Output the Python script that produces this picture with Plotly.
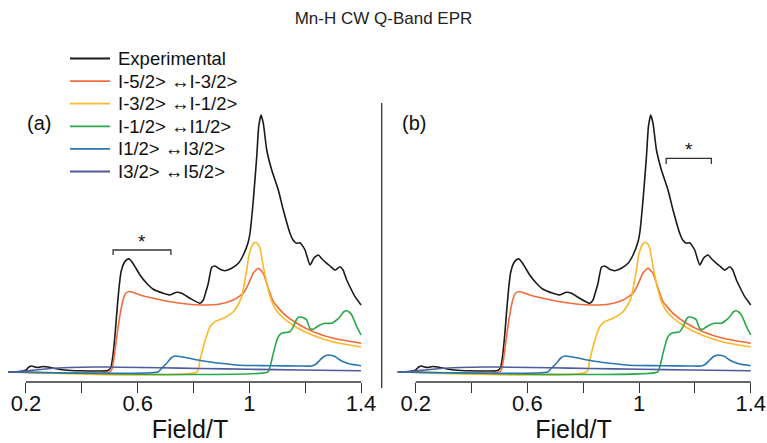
import plotly.graph_objects as go

# ---------------- data ----------------
exp_field = [0.1355, 0.1785, 0.2, 0.2107, 0.2215, 0.2322, 0.2430, 0.2609, 0.2788, 0.3039, 0.3397,
             0.3934, 0.4651, 0.4937, 0.5045, 0.5116, 0.5188, 0.5260, 0.5331, 0.5403, 0.5510, 0.5618,
             0.5700, 0.5797, 0.5904, 0.6083, 0.6323, 0.6560, 0.6918, 0.7158, 0.7398, 0.7577, 0.7874,
             0.8233, 0.8351, 0.8430, 0.8530, 0.8652, 0.8770, 0.8949, 0.9128, 0.9368, 0.9605, 0.9784,
             0.9963, 1.0024, 1.0142, 1.0264, 1.0335, 1.0418, 1.0500, 1.0622, 1.0801, 1.1037, 1.1216,
             1.1456, 1.1564, 1.1696, 1.1814, 1.1993, 1.2172, 1.2315, 1.2470, 1.2602, 1.2771, 1.2889,
             1.3068, 1.3247, 1.3355, 1.3487, 1.3641, 1.3784, 1.4]
exp_int = [0, 0.5, 2, 5, 6, 5, 4.5, 5.5, 5, 3.5, 2,
           1.2, 1, 1.5, 5, 17, 37, 62, 84, 100, 109, 112.5,
           113, 110, 105.3, 97, 88.7, 82.7, 78.7, 77, 79.7, 78.7, 73.7,
           68.7, 72, 79, 88.7, 104.7, 106, 102.7, 101.3, 103.7, 108.7, 117,
           130.3, 139, 172, 215.3, 245.3, 257, 248.7, 222, 202, 182, 162,
           138.7, 132, 128.7, 129.3, 122, 107, 114, 117, 113, 108.7, 106,
           102, 105.3, 102, 92, 83, 75.3, 67]

m52_field = [0.1355, 0.5009, 0.5080, 0.5152, 0.5260, 0.5367, 0.5474, 0.5582, 0.5725, 0.6083, 0.6560,
             0.7158, 0.7756, 0.8351, 0.8949, 0.9425, 0.9784, 0.9951, 1.0142, 1.0320, 1.0500, 1.0679,
             1.0858, 1.1216, 1.1696, 1.2290, 1.3006, 1.4]
m52_int = [0, 0, 3, 14, 37, 57, 72, 79, 80.5, 77, 73.7,
           70.3, 68, 67, 68, 72, 78.7, 87, 99, 103.7, 98.7, 83.7,
           70.3, 58.7, 48.7, 40.3, 33.7, 28.7]

m32_field = [0.1355, 0.8125, 0.8233, 0.8351, 0.8465, 0.8590, 0.8770, 0.9067, 0.9425, 0.9593, 0.9726,
             0.9808, 0.9905, 0.9987, 1.0084, 1.0166, 1.0238, 1.0310, 1.0381, 1.0500, 1.0597, 1.0679,
             1.0811, 1.0954, 1.1216, 1.1696, 1.2290, 1.3006, 1.4]
m32_int = [0, 0, 12, 25.3, 36, 45.3, 50.3, 53.7, 60.3, 67, 75.3,
           87, 102, 117, 125.3, 129, 129.5, 128, 123.7, 105.3, 92, 82,
           70, 62, 54, 44.5, 36.5, 30, 25]

m12_field = [0.1355, 1.0668, 1.0739, 1.0858, 1.0954, 1.1037, 1.1158, 1.1312, 1.1456, 1.1574, 1.1696,
             1.1778, 1.1875, 1.1957, 1.2054, 1.2118, 1.2172, 1.2290, 1.2405, 1.2530, 1.2710, 1.2950,
             1.3104, 1.3247, 1.3373, 1.3487, 1.3570, 1.3667, 1.3749, 1.3846, 1.4]
m12_int = [0, 0, 5, 18.7, 29, 35.3, 38.7, 39.5, 40.3, 45.3, 52.7,
           55, 54.7, 54, 52, 47, 43.7, 42.7, 45, 47, 48.7, 48.7,
           51.5, 55.3, 60, 61.3, 60, 57, 52, 45.3, 37]

p12_field = [0.1355, 0.6728, 0.6835, 0.7040, 0.7194, 0.7337, 0.7516, 0.7756, 0.8351, 0.8949, 0.9547,
             1.0024, 1.0858, 1.1814, 1.2233, 1.2387, 1.2530, 1.2674, 1.2828, 1.2960, 1.3068, 1.3247,
             1.3365, 1.3605, 1.4]
p12_int = [0, 0, 3, 8.7, 14, 16, 15.5, 14.3, 11, 8.7, 7,
           6.5, 6.3, 6, 6, 8, 12, 15.5, 17, 16.5, 15.5, 12,
           10.3, 8, 6.3]

p32_field = [0.1355, 0.1785, 0.2322, 0.2860, 0.3576, 0.4471, 0.5367, 0.6800, 0.8233, 1.0024, 1.1814, 1.4]
p32_int = [0, 0.5, 2, 3.5, 4.5, 5, 4.8, 4.2, 3.5, 2.7, 2, 1.2]

series_names = ["Experimental", "I-5/2> \u2194I-3/2>", "I-3/2> \u2194I-1/2>",
                "I-1/2> \u2194I1/2>", "I1/2> \u2194I3/2>", "I3/2> \u2194I5/2>"]
series_colors = ["#1a1a1a", "#f26b3a", "#fbb829", "#2ba84a", "#2876b2", "#4f5b9c"]
series_x = [exp_field, m52_field, m32_field, m12_field, p12_field, p32_field]
series_y = [exp_int, m52_int, m32_int, m12_int, p12_int, p32_int]

tick_vals = [0.2, 0.4, 0.6, 0.8, 1.0, 1.2, 1.4]
tick_text = ["0.2", "", "0.6", "", "1", "", "1.4"]

panel_labels = ["(a)", "(b)"]
# bracket (marked region, "*") per panel: field start, field end, height
bracket_x0 = [0.512, 1.097]
bracket_x1 = [0.719, 1.259]
bracket_top = [122, 213.7]
bracket_leg = [5, 5.7]

# ---------------- layout geometry ----------------
W, H = 767, 443
T_MARGIN, B_MARGIN = 60, 61
PLOT_H = H - T_MARGIN - B_MARGIN
BOTTOM_PX = H - B_MARGIN
FONT = "Liberation Sans, Arial, Helvetica, sans-serif"
split = 380 / W
xr_a = [0.1069, 1.4679]
xr_b = [0.0721, 1.4582]
doms = [[0, split], [split, 1]]
ranges = [xr_a, xr_b]
yr = [-10, 312]


def px_x(p):
    return p / W


def px_y(p):
    return (BOTTOM_PX - p) / PLOT_H


fig = go.Figure()
for p, xa in enumerate(["x", "x2"]):
    for i in range(len(series_names)):
        fig.add_trace(go.Scatter(
            x=series_x[i], y=series_y[i], mode="lines",
            name=series_names[i], showlegend=False,
            line=dict(color=series_colors[i], width=1.6, shape="spline", smoothing=0.5),
            xaxis=xa, yaxis="y",
        ))

axis_common = dict(showgrid=False, zeroline=False, showline=False,
                   ticks="outside", ticklen=10, tickwidth=1.3, tickcolor="#333",
                   tickvals=tick_vals, ticktext=tick_text, ticklabelstandoff=-8,
                   tickfont=dict(size=22, color="#111", family=FONT),
                   title=dict(text="Field/T", font=dict(size=25, color="#111", family=FONT), standoff=0))
fig.update_layout(
    xaxis=dict(domain=doms[0], range=xr_a, anchor="y", **axis_common),
    xaxis2=dict(domain=doms[1], range=xr_b, anchor="y", **axis_common),
    yaxis=dict(range=yr, visible=False, domain=[0, 1]),
)

shapes = []
annotations = []
for p in range(2):
    d0, d1 = doms[p]
    r0, r1 = ranges[p]
    to_paper = lambda f: d0 + (f - r0) / (r1 - r0) * (d1 - d0)
    # axis baseline from first to last tick
    shapes.append(dict(type="line", xref="paper", yref="paper",
                       x0=to_paper(tick_vals[0]), x1=to_paper(tick_vals[-1]), y0=0, y1=0,
                       line=dict(color="#333", width=1.3)))
    xa = "x" if p == 0 else "x2"
    bx0, bx1, bt, bl = bracket_x0[p], bracket_x1[p], bracket_top[p], bracket_leg[p]
    shapes.append(dict(type="path", xref=xa, yref="y",
                       path=f"M {bx0},{bt - bl} L {bx0},{bt} L {bx1},{bt} L {bx1},{bt - bl}",
                       line=dict(color="#333", width=1.3)))
    annotations.append(dict(x=(bx0 + bx1) / 2, y=bt - 4, xref=xa, yref="y", text="*",
                            showarrow=False, yanchor="bottom",
                            font=dict(size=19, color="#111", family=FONT)))
    annotations.append(dict(x=px_x(39 if p == 0 else 414), y=px_y(123),
                            xref="paper", yref="paper", text=panel_labels[p], showarrow=False,
                            xanchor="center", yanchor="middle",
                            font=dict(size=20, color="#111", family=FONT)))

# legend (drawn manually to reproduce the compact row spacing)
for i, name in enumerate(series_names):
    yc = px_y(58.5 + 22.6 * i)
    shapes.append(dict(type="line", xref="paper", yref="paper",
                       x0=px_x(70), x1=px_x(110), y0=yc, y1=yc,
                       line=dict(color=series_colors[i], width=1.8)))
    annotations.append(dict(x=px_x(116), y=yc, xref="paper", yref="paper", text=name,
                            showarrow=False, xanchor="left", yanchor="middle",
                            font=dict(size=18.5, color="#111", family=FONT)))

# panel separator
shapes.append(dict(type="line", xref="paper", yref="paper",
                   x0=px_x(381.7), x1=px_x(381.7), y0=px_y(388), y1=px_y(103),
                   line=dict(color="#333", width=1.3)))

fig.update_layout(
    width=W, height=H,
    margin=dict(l=0, r=0, t=T_MARGIN, b=B_MARGIN),
    paper_bgcolor="white", plot_bgcolor="white",
    font=dict(family=FONT, color="#111"),
    showlegend=False,
    title=dict(text="Mn-H CW Q-Band EPR", x=0.5, xanchor="center",
               y=1 - 18 / H, yanchor="middle", font=dict(size=17, color="#222", family=FONT)),
    shapes=shapes, annotations=annotations,
)

fig.write_html("out.html")
